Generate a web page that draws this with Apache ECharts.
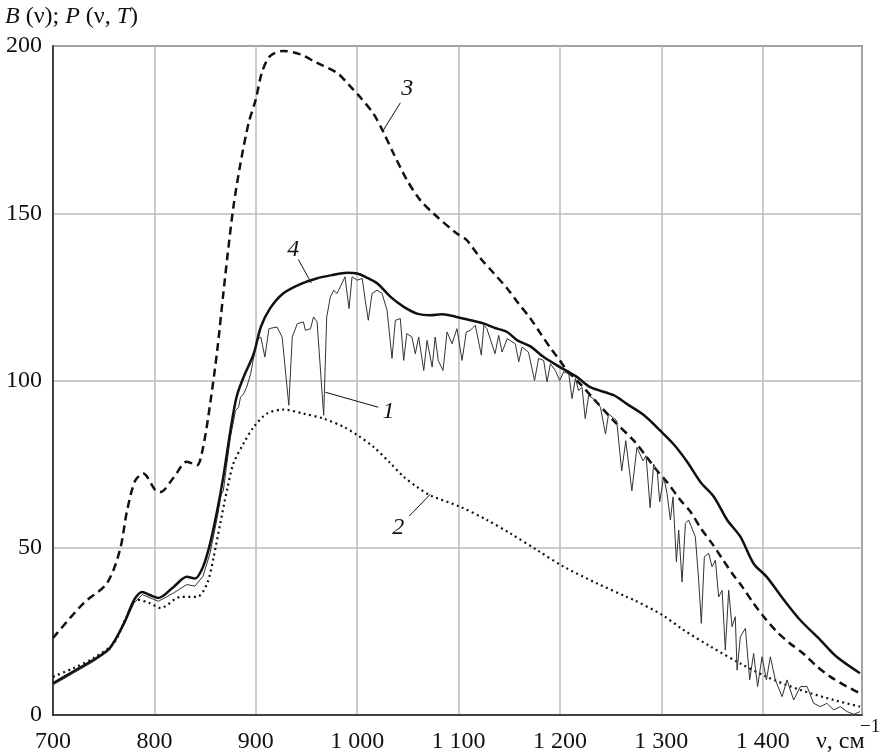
<!DOCTYPE html>
<html>
<head>
<meta charset="utf-8">
<script src="https://cdn.jsdelivr.net/npm/echarts@6/dist/echarts.min.js"></script>
<style>
  html, body { margin: 0; padding: 0; background: #fff; }
  #chart { width: 884px; height: 756px; }
</style>
</head>
<body>
<div id="chart"></div>
<script>
// x ticks and y ticks
var xMin = 700, xMax = 1498, xStep = 100;
var yMin = 0, yMax = 200, yStep = 50;

// curve 1 : thin, with absorption lines
var curve1 = [[700,9],[720,12.5],[740,16],[756,19.5],[770,27],[780,33.5],[788,36],[796,35],[804,34],[819,36.5],[832,39],[840,38.5],[848,41.5],[855,48.5],[862,59],[866,66],[868,67],[871,74],[875,83],[880,91],[883,92],[885,95],[888,96],[891,98],[895,102],[898,107],[901,112],[905,113],[909,107],[913,115.5],[921,116],[926,113],[932.6,92.6],[936,113],[941,117],[947,117.5],[949,115],[954,115.5],[957,119],[960.5,117.5],[967,89.6],[970,119],[973.6,125],[977,127],[980,126],[985,129],[988,131],[992,121.5],[995,131],[1000,130],[1005,130.5],[1008,124],[1011,118],[1014.7,126],[1019.6,127],[1024.6,126],[1029.5,121],[1034.4,106.6],[1037.7,118],[1042.6,118.5],[1045.9,106],[1049,114],[1054,113],[1057.4,108],[1060.7,113],[1065.7,103],[1069,112],[1074,104],[1077,113],[1080,106],[1084.7,103],[1088.7,114.5],[1093.6,111],[1098.5,115.5],[1103.5,106],[1107.7,114.5],[1111.7,115],[1116.6,116.5],[1122.5,107.6],[1125,116.5],[1128,115.5],[1136,108],[1139.6,113.5],[1143,108.5],[1148,112.5],[1156,111],[1159.4,105.6],[1162.7,110],[1169,108.5],[1175,100],[1179,106.6],[1184,106],[1187.3,99.6],[1190.6,105],[1195.5,103],[1199.8,100],[1203.7,102.6],[1208.7,102],[1212,94.6],[1215.3,100.6],[1218.5,97],[1221.8,98],[1225,88.6],[1228.4,95.6],[1235,94],[1240,92],[1245,84],[1248,90],[1256,88],[1261,73],[1265,82],[1271,67],[1276,80],[1282,76],[1285,77.5],[1289,62],[1292.5,75],[1296,73],[1298.4,63.7],[1302.4,71.2],[1305.7,66.2],[1309,58.3],[1311.6,65.2],[1314.9,45.8],[1317.2,55.3],[1320.5,39.8],[1323.8,57.3],[1327,58.3],[1333.6,53.3],[1336.9,40.3],[1339.5,27.4],[1342.5,47.3],[1346.8,48.3],[1350.1,44.3],[1353.4,46.3],[1356.6,35.3],[1360,37.3],[1363.2,19.4],[1366.5,37.3],[1369.8,26.4],[1373,29.4],[1374.8,13.4],[1378,23.4],[1383,25.9],[1387.2,10.5],[1391.1,18.4],[1395,8.5],[1399.4,17.4],[1403.7,10.5],[1407.6,17.4],[1412.5,10.5],[1419.2,5.5],[1424,10.5],[1430.6,4.5],[1437.2,8.5],[1443.8,8.5],[1450.3,3.5],[1456.9,2.5],[1463.5,3.5],[1470,1.5],[1476.6,2.5],[1483.3,1],[1490,0.2],[1496,1]];

// curve 2 : dotted
var curve2 = [[700,11.4],[720,14],[740,17],[760,21.5],[772,29],[783,34.5],[795,33.5],[806,32],[826,35.3],[842,35.3],[852,39.3],[858.5,47.3],[865,57.3],[871.6,67.2],[878,75.2],[888,81.2],[898,86.1],[911,90.1],[927.5,91.3],[947,90.1],[967,88.6],[987,86.1],[1000,83.7],[1016,80.2],[1033,75.2],[1046,71.2],[1059,68.2],[1072,65.7],[1102,62.2],[1128,58.3],[1151,54.3],[1177.5,49.3],[1204,44.3],[1237,39.3],[1266,35.3],[1273,34.4],[1301,29.9],[1322,25.4],[1349,20.4],[1378,15.4],[1404,11.4],[1437,7.5],[1470,4.5],[1496,2.5]];

// curve 3 : dashed
var curve3 = [[700,23],[730,33.4],[753,39.3],[766,49.3],[773,61],[781,70],[789,72.2],[801,67.2],[806,66.7],[819,71],[832,75.7],[842,74.7],[848,80],[855,93],[862,109],[868,126],[872,137],[878,152],[885,165],[893,177],[900,184],[906,192],[914,197],[927,198.5],[944,197.5],[960,195],[980,192],[993,188],[1003,184.7],[1016,179.8],[1025,174.8],[1036,167.8],[1049,160],[1062,154],[1075,150],[1098,144],[1108,142],[1122,136.4],[1135,132],[1148,127.5],[1158,123.5],[1171,118.5],[1181,114],[1191,109.6],[1200,106],[1207,103],[1220,99],[1233,94.6],[1253,88],[1273,82],[1286,77],[1296,73],[1306,69.5],[1319,64.2],[1329,60.7],[1339,55.8],[1350,51.3],[1360,46.8],[1370,42.3],[1380,38.3],[1391,33.4],[1401,29.4],[1414,24.9],[1427,21.4],[1440,18.4],[1454,14.4],[1467,11.4],[1483,8.5],[1496,6.5]];

// curve 4 : thick solid envelope
var curve4 = [[700,9.5],[720,13],[740,16.5],[756,20],[770,27.4],[780,34.4],[788,36.8],[796,35.8],[804,35],[819,38.3],[832,41.3],[840,40.8],[848,44.3],[855,51.3],[862,61.2],[868,71.2],[875,85],[881,95],[888,101],[898,108],[905,116],[914,121.5],[927,126],[944,128.8],[960,130.5],[975,131.5],[990,132.2],[1000,132],[1008,131],[1020,129],[1033,125],[1046,122],[1059,120],[1072,119.5],[1084,119.8],[1098,119],[1112,118],[1125,117],[1135,115.8],[1148,114.5],[1158,112],[1171,110.2],[1184,107],[1200,104],[1217,101],[1230,98],[1253,95.6],[1266,93],[1283,89.6],[1299,85],[1312,81],[1326,75.5],[1339,69.5],[1352,65.2],[1365,58.3],[1378,53.3],[1391,45.3],[1404,41.3],[1421,34.4],[1437,28.4],[1457,22.4],[1473,17.4],[1496,12.5]];

// curve numbers: label position, leader start, leader end (data coords)
var curveLabels = ['1', '2', '3', '4'];
var labelAt = [[1031,90.8],[1040.6,55.9],[1049.5,187.3],[937,139]];
var leaderFrom = [[1020.9,92],[1051.5,59.5],[1042.6,183],[942,136.2]];
var leaderTo = [[968.6,96.5],[1072.2,66],[1025.8,174.8],[954.8,129.1]];

var font = '"Liberation Serif", "DejaVu Serif", serif';

function fmt(v) {
    if (v % 100 !== 0) return '';
    return String(v).replace(/\B(?=(\d{3})+(?!\d))/g, ' ');
}

var chart = echarts.init(document.getElementById('chart'));
chart.setOption({
    backgroundColor: '#fff',
    animation: false,
    grid: {left: 53, right: 22, top: 46, bottom: 41, show: true, borderColor: '#222', borderWidth: 1.5},
    xAxis: {
        type: 'value', min: xMin, max: xMax, interval: xStep,
        axisLine: {show: true, lineStyle: {color: '#222', width: 1.5}},
        axisTick: {show: false},
        splitLine: {show: true, lineStyle: {color: '#bbb', width: 1.5}},
        axisLabel: {formatter: fmt, showMaxLabel: false, margin: 15, color: '#111', fontFamily: font, fontSize: 24}
    },
    yAxis: {
        type: 'value', min: yMin, max: yMax, interval: yStep,
        axisLine: {show: true, lineStyle: {color: '#222', width: 1.5}},
        axisTick: {show: false},
        splitLine: {show: true, lineStyle: {color: '#bbb', width: 1.5}},
        axisLabel: {margin: 11, color: '#111', fontFamily: font, fontSize: 24}
    },
    series: [
        {name: '2', type: 'line', data: curve2, showSymbol: false, smooth: 0.3,
         lineStyle: {color: '#111', width: 2.2, type: [2, 3.5]}},
        {name: '3', type: 'line', data: curve3, showSymbol: false, smooth: 0.3,
         lineStyle: {color: '#111', width: 2.5, type: [8, 5]}},
        {name: '1', type: 'line', data: curve1, showSymbol: false,
         lineStyle: {color: '#333', width: 1}},
        {name: '4', type: 'line', data: curve4, showSymbol: false, smooth: 0.3,
         lineStyle: {color: '#111', width: 2.5}}
    ]
});

// titles and curve numbers
var graphics = [
    {type: 'text', x: 5, y: 17, style: {
        text: '{i|B} (ν); {i|P} (ν, {i|T})', fill: '#111', font: '24px ' + font,
        textVerticalAlign: 'middle',
        rich: {i: {fontStyle: 'italic', fontFamily: font, fontSize: 24}}}},
    {type: 'text', x: 816, y: 742, style: {text: 'ν, см', fill: '#111', font: '24px ' + font,
        textVerticalAlign: 'middle'}},
    {type: 'text', x: 860, y: 727, style: {text: '−1', fill: '#111', font: '19px ' + font,
        textVerticalAlign: 'middle'}}
];
for (var i = 0; i < curveLabels.length; i++) {
    var p = chart.convertToPixel({gridIndex: 0}, labelAt[i]);
    var a = chart.convertToPixel({gridIndex: 0}, leaderFrom[i]);
    var b = chart.convertToPixel({gridIndex: 0}, leaderTo[i]);
    graphics.push({type: 'line', shape: {x1: a[0], y1: a[1], x2: b[0], y2: b[1]},
        style: {stroke: '#111', lineWidth: 1}});
    graphics.push({type: 'text', x: p[0], y: p[1], style: {
        text: curveLabels[i], fill: '#111', font: 'italic 24px ' + font,
        textAlign: 'center', textVerticalAlign: 'middle'}});
}
chart.setOption({graphic: graphics});
</script>
</body>
</html>
